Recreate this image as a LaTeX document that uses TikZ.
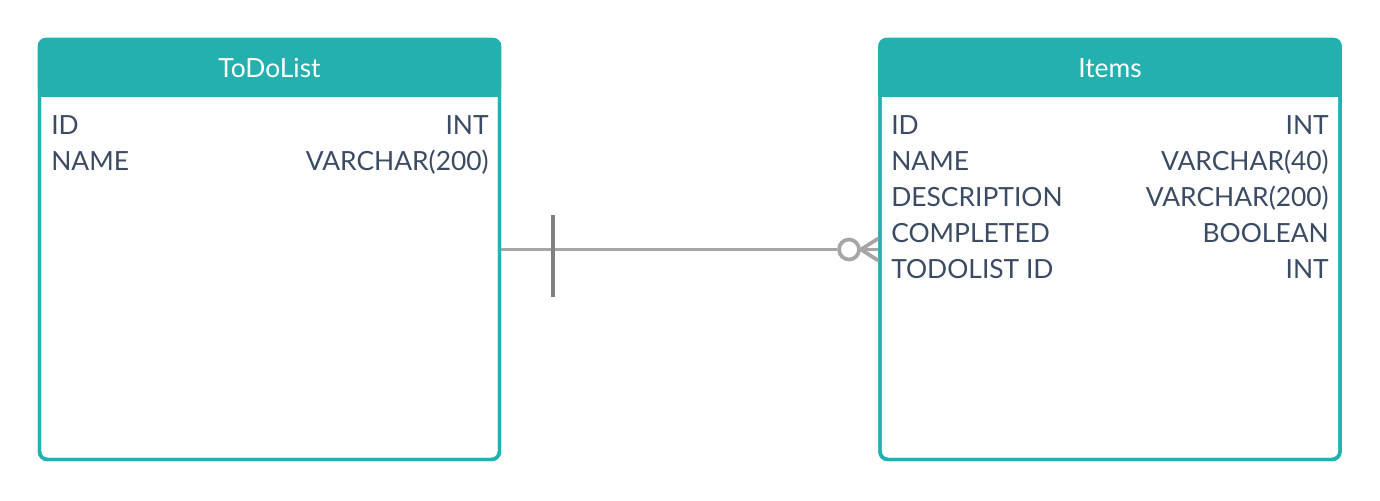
\documentclass[tikz,border=0pt]{standalone}
\usepackage{fontspec}
\setmainfont{Lato}
\usepackage{xcolor}
\usepackage{tikz}
\usetikzlibrary{positioning, calc}

\definecolor{erteal}{HTML}{23B0AF}
\definecolor{ertext}{HTML}{3B4B63}
\definecolor{erline}{HTML}{A6A6A6}
\definecolor{erbar}{HTML}{808080}

\tikzset{
  tablebox/.style={
    draw=erteal, line width=2.6pt, rounded corners=6pt,
    minimum width=345pt, minimum height=315pt, inner sep=0pt
  },
  tabletitle/.style={
    text=white, font=\fontsize{19.8}{24}\selectfont, inner sep=0pt
  },
  fieldname/.style={
    text=ertext, font=\fontsize{19.8}{24}\selectfont,
    inner sep=0pt, anchor=base west
  },
  fieldtype/.style={
    text=ertext, font=\fontsize{19.8}{24}\selectfont,
    inner sep=0pt, anchor=base east
  },
  relline/.style={draw=erline, line width=2.8pt},
  barline/.style={draw=erbar, line width=2.8pt},
  zeromark/.style={
    circle, draw=erline, line width=2.8pt, fill=white,
    minimum size=15pt, inner sep=0pt
  },
}

\begin{document}
\begin{tikzpicture}[x=0.75pt, y=-0.75pt]
  \useasboundingbox (0,0) rectangle (1380,500);

  % ── Tables ──
  \node[tablebox] (todolist) at (269.5,249.5) {};
  \node[tablebox] (items) at (1110,249.5) {};

  % headers
  \fill[erteal, rounded corners=6pt] (todolist.north west) rectangle (todolist.east |- 0,97);
  \fill[erteal] (todolist.west |- 0,75) rectangle (todolist.east |- 0,97);
  \fill[erteal, rounded corners=6pt] (items.north west) rectangle (items.east |- 0,97);
  \fill[erteal] (items.west |- 0,75) rectangle (items.east |- 0,97);
  \node[tablebox] at (todolist) {};
  \node[tablebox] at (items) {};
  \node[tabletitle] (todotitle) at (todolist.north |- 0,68) {ToDoList};
  \node[tabletitle] (itemstitle) at (items.north |- 0,68) {Items};

  % ── Fields ──
  \node[fieldname] (tdid) at (51,134) {ID};
  \node[fieldtype] (tdidtype) at (489,134) {INT};
  \node[fieldname] (tdname) at (51,170) {NAME};
  \node[fieldtype] (tdnametype) at (489,170) {VARCHAR(200)};

  \node[fieldname] (itid) at (891,134) {ID};
  \node[fieldtype] (itidtype) at (1329,134) {INT};
  \node[fieldname] (itname) at (891,170) {NAME};
  \node[fieldtype] (itnametype) at (1329,170) {VARCHAR(40)};
  \node[fieldname] (itdesc) at (891,206) {DESCRIPTION};
  \node[fieldtype] (itdesctype) at (1329,206) {VARCHAR(200)};
  \node[fieldname] (itdone) at (891,242) {COMPLETED};
  \node[fieldtype] (itdonetype) at (1329,242) {BOOLEAN};
  \node[fieldname] (itlist) at (891,278) {TODOLIST ID};
  \node[fieldtype] (itlisttype) at (1329,278) {INT};

  % ── Relationship ──
  \node[zeromark] (zero) at (849,249.5) {};
  \draw[relline] (todolist.east) -- (zero.west);
  \draw[barline] ($(todolist.east)+(51.5,-35)$) coordinate (bartop)
    -- ($(todolist.east)+(51.5,47)$) coordinate (barbot);
  \draw[relline] (zero.east) -- ([yshift=8.25pt]items.west);
  \draw[relline] (zero.east) -- (items.west);
  \draw[relline] (zero.east) -- ([yshift=-8.25pt]items.west);
\end{tikzpicture}
\end{document}
